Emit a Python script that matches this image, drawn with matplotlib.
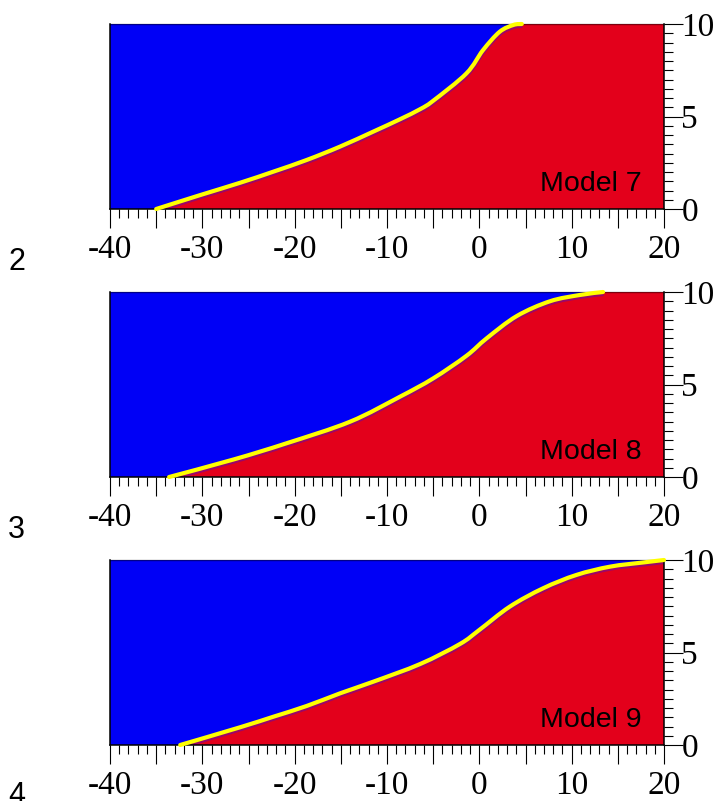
import numpy as np
import matplotlib.pyplot as plt
from matplotlib.path import Path
from matplotlib.patches import PathPatch
from matplotlib.ticker import MultipleLocator
from matplotlib.transforms import offset_copy

plt.rcParams['axes.unicode_minus'] = False

# interface curves (x, depth)
x7 = [-35, -30.25, -25.9, -22.3, -18.7, -15.1, -11.5, -8.6, -6.4, -5.0, -1.4, 0.4, 2.2, 3.7, 4.6]
y7 = [0, 0.75, 1.42, 2.02, 2.65, 3.37, 4.18, 4.85, 5.4, 5.85, 7.33, 8.59, 9.58, 9.95, 10]

x8 = [-33.6, -26.6, -20.9, -14.0, -8.6, -5.0, -1.4, 0.8, 4.05, 7.65, 10.9, 13.4]
y8 = [0, 0.95, 1.82, 2.99, 4.34, 5.33, 6.55, 7.5, 8.7, 9.5, 9.84, 10]

x9 = [-32.4, -25.9, -22.3, -18.7, -15.1, -11.5, -6.4, -2.1, 0.0, 3.3, 6.9, 10.5, 14.15, 17.8, 20]
y9 = [0, 0.96, 1.53, 2.11, 2.79, 3.42, 4.38, 5.46, 6.22, 7.48, 8.47, 9.19, 9.64, 9.87, 10]

models = ["Model 7", "Model 8", "Model 9"]
side_labels = ["2", "3", "4"]
xticks = list(range(-40, 21, 5))
yticks = [0, 5, 10]
xlim = (-40, 20)
ylim = (0, 10)

blue = "#0000f6"
red = "#e3001b"
purple = "#7a0a8c"
yellow = "#ffff00"


def smooth_path(xs, ys):
    # Catmull-Rom through the read points, drawn as cubic beziers
    p = np.column_stack([xs, ys]).astype(float)
    p = np.vstack([p[0], p, p[-1]])
    verts = [p[1]]
    codes = [Path.MOVETO]
    for k in range(1, len(p) - 2):
        c1 = p[k] + (p[k + 1] - p[k - 1]) / 6
        c2 = p[k + 1] - (p[k + 2] - p[k]) / 6
        verts += [c1, c2, p[k + 1]]
        codes += [Path.CURVE4] * 3
    return verts, codes


fig = plt.figure(figsize=(7.14, 8.01), dpi=100)

bottoms = [1 - 209 / 801, 1 - 477 / 801, 1 - 745 / 801]
side_y = [1 - 262 / 801, 1 - 530 / 801, 1 - 796 / 801]
curves = [(x7, y7), (x8, y8), (x9, y9)]

for i, (cx, cy) in enumerate(curves):
    ax = fig.add_axes([110 / 714, bottoms[i], 554 / 714, 185 / 801])
    ax.set_facecolor(blue)
    ax.set_xlim(*xlim)
    ax.set_ylim(*ylim)

    verts, codes = smooth_path(cx, cy)

    # red region: below the interface and right of its end
    fv = verts + [(xlim[1], ylim[1]), (xlim[1], ylim[0]), verts[0], verts[0]]
    fc = codes + [Path.LINETO, Path.LINETO, Path.LINETO, Path.CLOSEPOLY]
    ax.add_patch(PathPatch(Path(fv, fc), facecolor=red, edgecolor="none", zorder=1))

    shifted = offset_copy(ax.transData, fig=fig, x=0.5, y=-2.5, units="dots")
    ax.add_patch(PathPatch(Path(verts, codes), facecolor="none", edgecolor=purple,
                           lw=2.2, alpha=0.7, transform=shifted, zorder=2))
    ax.add_patch(PathPatch(Path(verts, codes), facecolor="none", edgecolor=yellow,
                           lw=3.0, capstyle="round", zorder=3, clip_on=False))

    ax.text(0.960, 0.097, models[i], transform=ax.transAxes, ha="right", va="baseline",
            fontsize=20.5, family="Liberation Sans", color="black", zorder=4)

    for s in ["left", "bottom", "right"]:
        ax.spines[s].set_color("black")
        ax.spines[s].set_linewidth(1.1)
    ax.spines["top"].set_color((0, 0, 0, 0.45))
    ax.spines["top"].set_linewidth(1.0)

    ax.yaxis.tick_right()
    ax.set_xticks(xticks)
    ax.set_xticklabels([str(t) if t % 10 == 0 else "" for t in xticks])
    ax.xaxis.set_minor_locator(MultipleLocator(1))
    ax.set_yticks(yticks)
    ax.yaxis.set_minor_locator(MultipleLocator(0.5))

    ax.tick_params(axis="x", which="major", direction="out", length=13.5, width=0.8,
                   pad=5, labelsize=24)
    ax.tick_params(axis="x", which="minor", direction="out", length=6.5, width=0.8)
    ax.tick_params(axis="y", which="major", direction="out", length=13.5, width=0.8,
                   pad=-1, labelsize=24, right=True, left=False)
    ax.tick_params(axis="y", which="minor", direction="out", length=6.5, width=0.8,
                   right=True, left=False)
    for lab in ax.get_xticklabels() + ax.get_yticklabels():
        lab.set_family("Liberation Serif")

    fig.text(16.7 / 714, side_y[i], side_labels[i], ha="center", va="center",
             fontsize=22, family="Liberation Sans")

fig.savefig("out.png", dpi=100)
